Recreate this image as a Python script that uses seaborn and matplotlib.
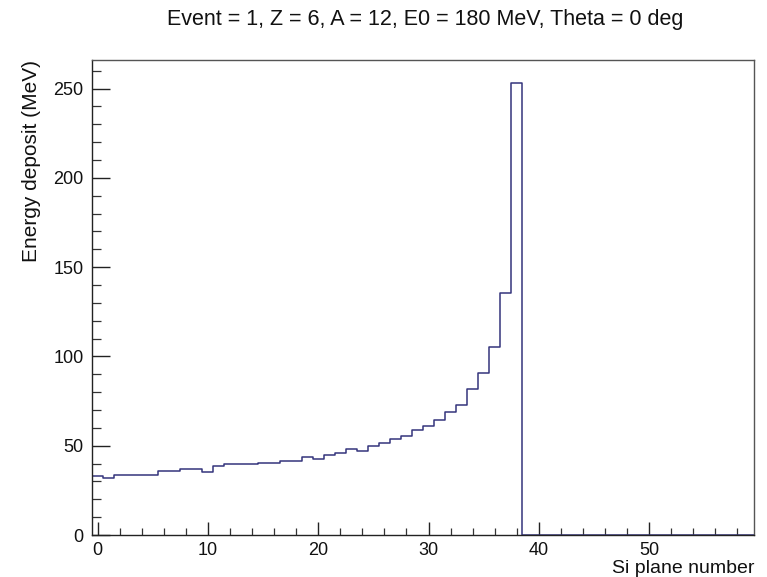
import numpy as np
import pandas as pd
import matplotlib
matplotlib.use("Agg")
import matplotlib.pyplot as plt
import seaborn as sns
from matplotlib.ticker import MultipleLocator

# ---- data ----
planes = list(range(60))
deposit_nonzero = [32.9, 32.2, 33.8, 33.8, 33.8, 33.8, 35.7, 36.0, 36.8, 36.8,
                   35.3, 38.5, 40.0, 39.6, 39.6, 40.3, 40.3, 41.3, 41.3, 43.7,
                   42.8, 44.6, 45.9, 48.0, 47.0, 49.6, 51.5, 53.5, 55.4, 58.6,
                   61.0, 64.5, 68.8, 73.0, 82.0, 90.5, 105.4, 135.4, 253.4]
deposit = deposit_nonzero + [0.0] * (len(planes) - len(deposit_nonzero))
title = "Event = 1, Z = 6, A = 12, E0 = 180 MeV, Theta = 0 deg"
xlabel = "Si plane number"
ylabel = "Energy deposit (MeV)"

df = pd.DataFrame({"plane": planes, "edep": deposit})

sns.set_style("white")
plt.rcParams["font.family"] = ["Liberation Sans", "DejaVu Sans"]
plt.rcParams["text.color"] = "#111111"
plt.rcParams["axes.labelcolor"] = "#111111"
plt.rcParams["xtick.labelcolor"] = "#111111"
plt.rcParams["ytick.labelcolor"] = "#111111"

fig = plt.figure(figsize=(7.67, 5.77), dpi=100)
ax = fig.add_axes([92 / 767, 42 / 577, (754 - 92) / 767, (535 - 60) / 577])

sns.histplot(data=df, x="plane", weights="edep", binwidth=1, binrange=(-0.5, 59.5),
             element="step", fill=False, color="#34347c", linewidth=1.1, ax=ax)

ax.set_xlim(-0.5, 59.5)
ax.set_ylim(0, 266)
ax.xaxis.set_major_locator(MultipleLocator(10))
ax.xaxis.set_minor_locator(MultipleLocator(2))
ax.yaxis.set_major_locator(MultipleLocator(50))
ax.yaxis.set_minor_locator(MultipleLocator(10))

ax.tick_params(axis="x", which="major", direction="in", length=9.5, width=1, color="#222222",
               labelsize=13, pad=5, top=False, bottom=True)
ax.tick_params(axis="x", which="minor", direction="in", length=4.8, width=0.9, color="#333333",
               top=False, bottom=True)
ax.tick_params(axis="y", which="major", direction="in", length=13, width=1, color="#222222",
               labelsize=13, pad=6, left=True, right=False)
ax.tick_params(axis="y", which="minor", direction="in", length=6.5, width=0.9, color="#333333",
               left=True, right=False)

for sp in ax.spines.values():
    sp.set_color("#555555")
    sp.set_linewidth(1.0)
ax.spines["left"].set_color("#222222")
ax.spines["bottom"].set_color("#222222")

ax.set_xlabel(xlabel, loc="right", fontsize=14, labelpad=1)
ax.set_ylabel(ylabel, loc="top", fontsize=15, labelpad=9)

fig.text(425 / 767, 1 - 19 / 577, title, ha="center", va="center", fontsize=15.5)

fig.savefig("out.png", dpi=100)
